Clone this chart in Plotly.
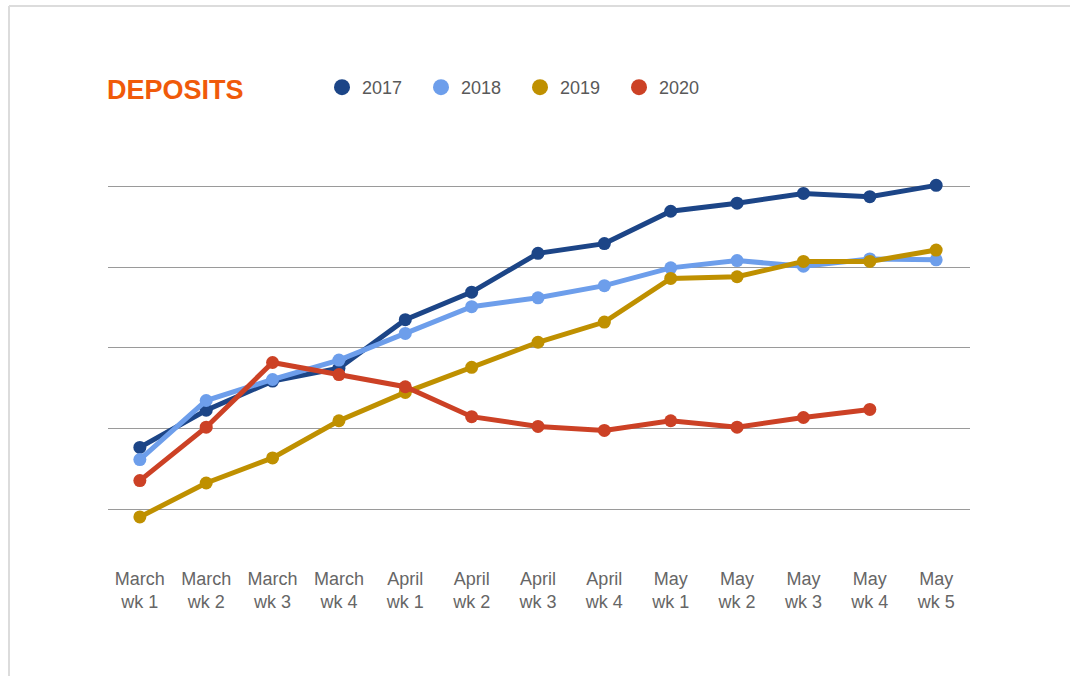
import plotly.graph_objects as go

categories = ["March<br>wk 1", "March<br>wk 2", "March<br>wk 3", "March<br>wk 4",
              "April<br>wk 1", "April<br>wk 2", "April<br>wk 3", "April<br>wk 4",
              "May<br>wk 1", "May<br>wk 2", "May<br>wk 3", "May<br>wk 4", "May<br>wk 5"]

deposits_2017 = [0.77, 1.23, 1.59, 1.75, 2.35, 2.69, 3.17, 3.29, 3.69, 3.79, 3.91, 3.87, 4.01]
deposits_2018 = [0.62, 1.35, 1.61, 1.85, 2.18, 2.51, 2.62, 2.77, 2.99, 3.08, 3.01, 3.10, 3.09]
deposits_2019 = [-0.09, 0.33, 0.64, 1.10, 1.45, 1.76, 2.07, 2.32, 2.86, 2.88, 3.07, 3.07, 3.21]
deposits_2020 = [0.36, 1.02, 1.82, 1.67, 1.52, 1.15, 1.03, 0.98, 1.10, 1.02, 1.14, 1.24]

series_names = ["2017", "2018", "2019", "2020"]
series_values = [deposits_2017, deposits_2018, deposits_2019, deposits_2020]
series_colors = ["#1c4587", "#6d9eeb", "#bf9000", "#cc4125"]

grid_vals = [0, 1, 2, 3, 4]

fig = go.Figure()

for name, vals, col in zip(series_names, series_values, series_colors):
    fig.add_trace(go.Scatter(
        x=categories[:len(vals)], y=vals, mode="lines+markers", name=name,
        line=dict(color=col, width=5), marker=dict(color=col, size=13),
        showlegend=False, cliponaxis=False,
    ))

# legend-only entries (circle symbols)
for name, col in zip(series_names, series_colors):
    fig.add_trace(go.Scatter(
        x=[None], y=[None], mode="markers", name=name,
        marker=dict(color=col, size=16), showlegend=True,
    ))

L, R, T, B = 108, 100, 170, 138
W, H = 1070, 676
pw, ph = W - L - R, H - T - B

def px2paper_x(px):
    return (px - L) / pw

def px2paper_y(py):
    return (H - B - py) / ph

fig.update_layout(
    width=W, height=H,
    margin=dict(l=L, r=R, t=T, b=B),
    paper_bgcolor="white", plot_bgcolor="white",
    font=dict(family="Liberation Sans, Arial, sans-serif", color="#666666"),
    legend=dict(
        orientation="h", xref="container", yref="container",
        x=322 / W, y=1 - 69 / H, xanchor="left", yanchor="top",
        font=dict(size=18, color="#595959"),
        itemsizing="trace", entrywidth=54, entrywidthmode="pixels",
        bgcolor="rgba(0,0,0,0)",
    ),
    xaxis=dict(
        type="category", range=[-0.48, 12.51], showgrid=False, zeroline=False,
        showline=False, ticks="", tickfont=dict(size=18, color="#666666"),
        ticklabelstandoff=28,
    ),
    yaxis=dict(
        range=[-0.35, 4.2], tickvals=grid_vals, showticklabels=False,
        showgrid=True, gridcolor="#9a9a9a", gridwidth=1.3, zeroline=False,
        showline=False,
    ),
    showlegend=True,
    hovermode=False,
)

fig.add_annotation(
    text="<b>DEPOSITS</b>", xref="paper", yref="paper",
    x=px2paper_x(105), y=px2paper_y(90), xanchor="left", yanchor="middle",
    showarrow=False, font=dict(family="Liberation Sans, Arial, sans-serif", size=27, color="#f05a0a"),
)

# light frame around the card
fig.add_shape(type="line", xref="paper", yref="paper",
              x0=px2paper_x(9), x1=px2paper_x(1075), y0=px2paper_y(6), y1=px2paper_y(6),
              line=dict(color="#dcdcdc", width=2))
fig.add_shape(type="line", xref="paper", yref="paper",
              x0=px2paper_x(9), x1=px2paper_x(9), y0=px2paper_y(6), y1=px2paper_y(680),
              line=dict(color="#dcdcdc", width=2))

fig.write_html("out.html", config={"displayModeBar": False},
               post_script="document.body.style.margin='0';document.body.style.padding='0';")
